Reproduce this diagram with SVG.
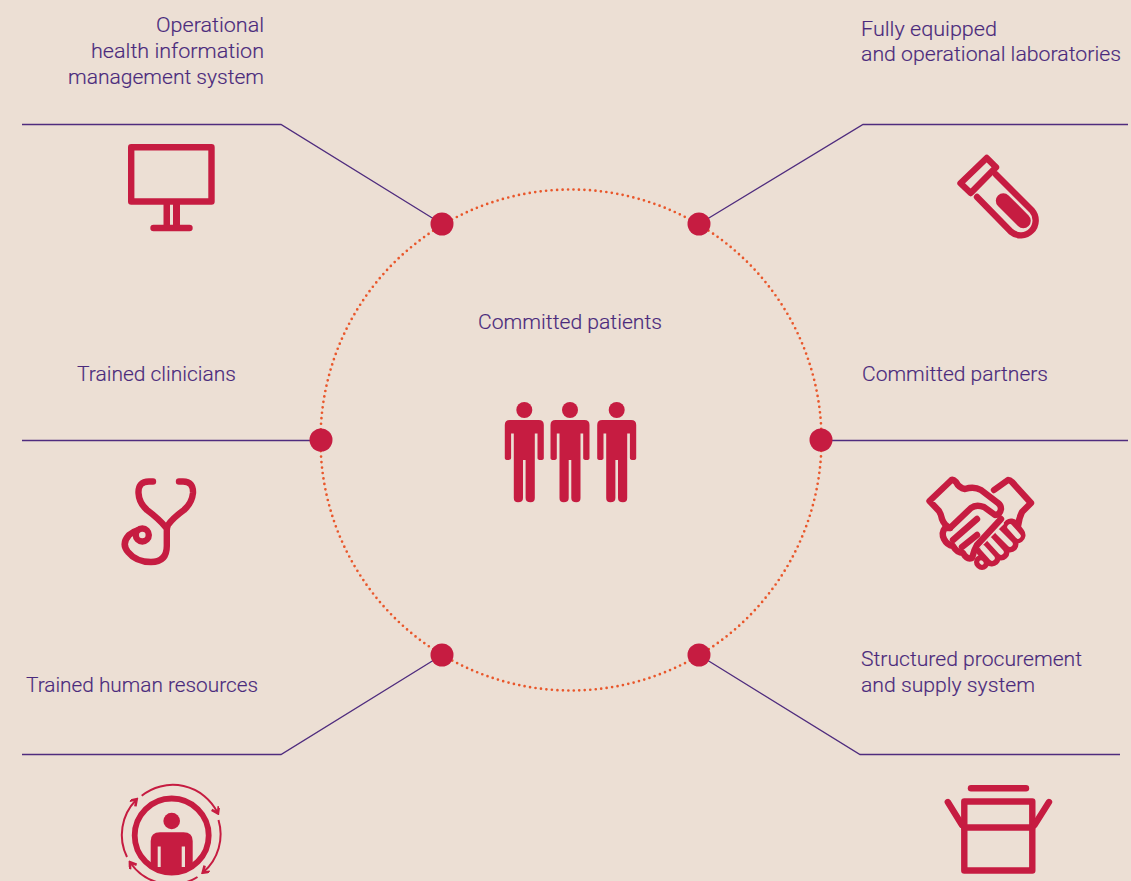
<svg xmlns="http://www.w3.org/2000/svg" xmlns:xlink="http://www.w3.org/1999/xlink" width="1131" height="881" viewBox="0 0 1131 881">
<style>
.t{font-family:"Roboto","Liberation Sans",sans-serif;font-size:21px;font-weight:300;fill:#4a2a7c;stroke:#4a2a7c;stroke-width:.15}
.c{fill:none;stroke:#4f2c7e;stroke-width:1.3}
.d{fill:#c61c41}
.i{fill:none;stroke:#c61c41;stroke-width:6.400;stroke-linecap:round;stroke-linejoin:round}
.a{fill:none;stroke:#c61c41;stroke-width:2}
.f{fill:#c61c41}
.fo{fill:none;stroke:#c61c41;stroke-width:17;stroke-linecap:round}
.sl{fill:none;stroke:#ecdfd4;stroke-width:5.500;stroke-linecap:round}
</style>
<defs>
<g id="person"><circle cx="0" cy="0" r="8"/><path d="M-14.500 10H14.500Q19.500 10 19.500 15V48Q19.500 50 16.500 50Q13.200 50 13.200 48V23.500H10.500V88Q10.500 92.300 6.300 92.300Q1.300 92.300 1.300 88V50H-1.300V88Q-1.300 92.300 -6.300 92.300Q-10.500 92.300 -10.500 88V23.500H-13.200V48Q-13.200 50 -16.500 50Q-19.500 50 -19.500 48V15Q-19.500 10 -14.500 10Z"/></g>
<clipPath id="ringclip"><circle cx="171.700" cy="835.500" r="37"/></clipPath>
<marker id="ah" markerWidth="9" markerHeight="9" refX="6" refY="4" orient="auto" markerUnits="userSpaceOnUse"><path d="M1 0L7 4L1 8" fill="none" stroke="#c61c41" stroke-width="2.600"/></marker>
</defs>
<rect width="1131" height="881" fill="#ecdfd4"/>
<g id="connectors">
<circle cx="571" cy="440" r="250.500" fill="none" stroke="#e9572b" stroke-width="2.700" stroke-linecap="round" stroke-dasharray="0 5.500"/>
<path class="c" d="M22 124.500H281L442 224"/>
<path class="c" d="M1128 124.500H863L699 224"/>
<path class="c" d="M22 440.500H321"/>
<path class="c" d="M1128 440.500H821"/>
<path class="c" d="M22 754.500H281L442 655"/>
<path class="c" d="M1120 754.500H860L699 655"/>
<circle class="d" cx="442" cy="224" r="11.500"/>
<circle class="d" cx="699" cy="224" r="11.500"/>
<circle class="d" cx="321" cy="440" r="11.500"/>
<circle class="d" cx="821" cy="440" r="11.500"/>
<circle class="d" cx="442" cy="655" r="11.500"/>
<circle class="d" cx="699" cy="655" r="11.500"/>
</g>
<g id="node-patients">
<text class="t" x="478" y="329" textLength="184" lengthAdjust="spacingAndGlyphs">Committed patients</text>
<g class="f"><use xlink:href="#person" href="#person" x="524.300" y="410"/><use xlink:href="#person" href="#person" x="570" y="410"/><use xlink:href="#person" href="#person" x="616.700" y="410"/></g>
</g>
<g id="node-his">
<text class="t" x="156" y="32" textLength="108" lengthAdjust="spacingAndGlyphs">Operational</text>
<text class="t" x="91" y="58" textLength="173" lengthAdjust="spacingAndGlyphs">health information</text>
<text class="t" x="68" y="84" textLength="196" lengthAdjust="spacingAndGlyphs">management system</text>
<rect class="i" x="131.200" y="147.200" width="80.300" height="54.300"/>
<path class="f" d="M163.500 204H170V226H163.500ZM173 204H180V226H173Z"/>
<path class="i" d="M153.500 228H189.500"/>
</g>
<g id="node-labs">
<text class="t" x="861" y="36" textLength="136" lengthAdjust="spacingAndGlyphs">Fully equipped</text>
<text class="t" x="861" y="61" textLength="260" lengthAdjust="spacingAndGlyphs">and operational laboratories</text>
<path class="i" d="M986.700 158L996 167.300L970.700 193L960.500 183.300Z"/>
<path class="i" d="M996 174.500L1032 210.500A15 15 0 0 1 1011 231.800L977 197"/>
<path d="M1003.300 200.700L1023.300 220.700" fill="none" stroke="#c61c41" stroke-width="15" stroke-linecap="round"/>
</g>
<g id="node-clinicians">
<text class="t" x="77" y="381" textLength="159" lengthAdjust="spacingAndGlyphs">Trained clinicians</text>
<path class="i" d="M153 481.500H149Q138 481.500 138.500 493Q139 503 147 510Q159 519 165.500 527"/>
<path class="i" d="M179 481.500H183Q193.500 481.500 193 493Q192 503 184 510Q173 518 168 525Q166.800 527 166.800 531V546Q166.800 562 151 562Q136 562 128 552Q121 544 129 535Q134 531 138 530"/>
<circle cx="142.300" cy="535" r="6.500" fill="none" stroke="#c61c41" stroke-width="6.400"/>
</g>
<g id="node-partners">
<text class="t" x="862" y="381" textLength="186" lengthAdjust="spacingAndGlyphs">Committed partners</text>
<path class="i" d="M994 490L1008 480Q1010 480 1012 482L1031 503L1022 512Q1019 518 1018 526"/>
<path class="fo" d="M1011 527L1017 535"/>
<path class="fo" d="M999 533L1010 544"/>
<path class="fo" d="M991 541L1001 552"/>
<path class="fo" d="M984 549L992 558"/>
<path class="fo" style="stroke-width:14" d="M981 562L982 563"/>
<path class="sl" d="M1010 527L1018 536"/>
<path class="sl" d="M998 532L1010 544"/>
<path class="sl" d="M990 540L1001 552"/>
<path class="sl" d="M983 548L992 558"/>
<path class="sl" style="stroke-width:3.500" d="M981 562L982 563"/>
<path fill="#ecdfd4" d="M950 528L971 508L985 507L1001 515L1004 524L980 548L965 551L950 538Z"/>
<path class="i" d="M951.500 480L929.500 501L939 511Q941 514 942 519Q944 525 950 528L971 508Q976 504 984 507L995 515Q1000 515 1001 509Q1001 505 998 503L981 490Q974 486 965 489Q959 488 956 482Q953 479 951.500 480Z"/>
<path class="i" d="M1001 519L977 545Q974 550 972 558Q967 560 963 553Q957 553 953 546Q947 545 944 539Q941 533 945 528L950 528"/>
<path class="i" d="M953 540L977 519M962 547L977 535"/>
</g>
<g id="node-procurement">
<text class="t" x="861" y="666" textLength="221" lengthAdjust="spacingAndGlyphs">Structured procurement</text>
<text class="t" x="861" y="692" textLength="174" lengthAdjust="spacingAndGlyphs">and supply system</text>
<path class="i" d="M971 788.300H1026"/>
<rect class="i" x="964.300" y="801.500" width="68" height="69"/>
<path class="i" d="M964.300 827.500H1032.300M947.800 802L962 825M1049 802L1034.500 825"/>
</g>
<g id="node-hr">
<text class="t" x="26" y="692" textLength="232" lengthAdjust="spacingAndGlyphs">Trained human resources</text>
<circle cx="171.700" cy="835.500" r="37" fill="none" stroke="#c61c41" stroke-width="5.800"/>
<circle class="f" cx="171.700" cy="821" r="8.300"/>
<g clip-path="url(#ringclip)"><path class="f" d="M150.700 881V841Q150.700 832.300 160 832.300H183.500Q192.700 832.300 192.700 841V881Z"/></g>
<path fill="#ecdfd4" d="M157.700 846.500H160.700V867H157.700ZM181.700 846.500H185V867H181.700Z"/>
<path class="a" marker-end="url(#ah)" d="M141.700 795.700A50 50 0 0 1 217.500 812.500"/>
<path class="a" marker-end="url(#ah)" d="M218.500 820A50 50 0 0 1 203.500 872"/>
<path class="a" marker-end="url(#ah)" d="M197.500 877A50 50 0 0 1 130.500 863"/>
<path class="a" marker-end="url(#ah)" d="M127 857A50 50 0 0 1 136 800"/>
</g>
</svg>
